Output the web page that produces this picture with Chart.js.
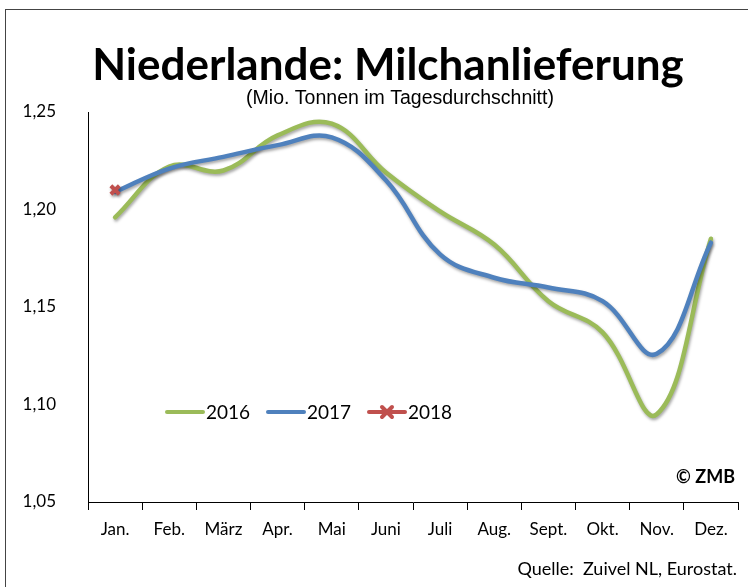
<!DOCTYPE html>
<html>
<head>
<meta charset="utf-8">
<script src="https://cdn.jsdelivr.net/npm/chart.js@4"></script>
<style>
  html, body { margin: 0; padding: 0; background: #fff; overflow: hidden; }
  #wrap { position: relative; width: 748px; height: 587px; }
  #frame { position: absolute; left: 5px; top: 9px; width: 800px; height: 700px; border: 1px solid #444; box-sizing: border-box; }
  canvas { position: absolute; left: 0; top: 0; }
</style>
</head>
<body>
<div id="wrap">
  <div id="frame"></div>
  <canvas id="chart" width="748" height="587"></canvas>
</div>
<script>
const months = ['Jan.', 'Feb.', 'März', 'Apr.', 'Mai', 'Juni', 'Juli', 'Aug.', 'Sept.', 'Okt.', 'Nov.', 'Dez.'];
const values2016 = [1.196, 1.222, 1.220, 1.238, 1.244, 1.219, 1.199, 1.182, 1.153, 1.137, 1.095, 1.185];
const values2017 = [1.209, 1.221, 1.227, 1.233, 1.237, 1.215, 1.177, 1.165, 1.160, 1.153, 1.126, 1.183];
const values2018 = [1.210];
const yTicks = [1.05, 1.10, 1.15, 1.20, 1.25];

const font = 'Lato, "Open Sans", sans-serif';
const green = '#9BBB59', blue = '#4F81BD', red = '#C0504D';

const shadowPlugin = {
  id: 'lineShadow',
  beforeDatasetDraw(chart) {
    const ctx = chart.ctx;
    ctx.save();
    ctx.shadowColor = 'rgba(0,0,0,0.35)';
    ctx.shadowBlur = 3;
    ctx.shadowOffsetX = 1;
    ctx.shadowOffsetY = 2;
  },
  afterDatasetDraw(chart) {
    chart.ctx.restore();
  }
};

// title, legend inside the plot, copyright and source line
const extrasPlugin = {
  id: 'extras',
  afterDraw(chart) {
    const ctx = chart.ctx;
    ctx.save();
    ctx.fillStyle = '#000';
    ctx.textBaseline = 'alphabetic';
    ctx.textAlign = 'center';
    ctx.font = 'bold 44px ' + font;
    ctx.fillText('Niederlande: Milchanlieferung', 388, 80);
    ctx.font = '19.5px "Liberation Sans", Arial, sans-serif';
    ctx.fillText('(Mio. Tonnen im Tagesdurchschnitt)', 400, 104);

    // legend
    ctx.textAlign = 'left';
    ctx.textBaseline = 'middle';
    ctx.font = '19px ' + font;
    const items = chart.data.datasets.map((d, i) => ({ d, x: 167 + i * 101 }));
    items.forEach(({ d, x }) => {
      ctx.strokeStyle = d.borderColor;
      ctx.lineWidth = 4;
      ctx.lineCap = 'round';
      ctx.beginPath();
      ctx.moveTo(x, 412);
      ctx.lineTo(x + 36, 412);
      ctx.stroke();
      if (d.pointStyle === 'crossRot') {
        ctx.lineWidth = 4;
        ctx.beginPath();
        ctx.moveTo(x + 13, 407); ctx.lineTo(x + 23, 417);
        ctx.moveTo(x + 23, 407); ctx.lineTo(x + 13, 417);
        ctx.stroke();
      }
      ctx.fillStyle = '#000';
      ctx.fillText(d.label, x + 39, 413);
    });

    ctx.textAlign = 'right';
    ctx.font = 'bold 18px ' + font;
    ctx.fillText('© ZMB', 735, 477);
    ctx.font = '18px ' + font;
    ctx.fillText('Quelle:  Zuivel NL, Eurostat.', 737, 569);
    ctx.restore();
  }
};

new Chart(document.getElementById('chart'), {
  type: 'line',
  data: {
    labels: months,
    datasets: [
      { label: '2016', data: values2016, borderColor: green, backgroundColor: green, order: 2 },
      { label: '2017', data: values2017, borderColor: blue, backgroundColor: blue, order: 1 },
      { label: '2018', data: values2018, borderColor: red, backgroundColor: red, order: 0,
        pointStyle: 'crossRot', pointRadius: 6, pointBorderWidth: 4 }
    ]
  },
  options: {
    responsive: false,
    animation: false,
    events: [],
    layout: { padding: { top: 112, right: 1, left: 0, bottom: 0 } },
    elements: {
      line: { borderWidth: 4.5, tension: 0.4, cubicInterpolationMode: 'default', borderCapStyle: 'round' },
      point: { radius: 0 }
    },
    plugins: {
      legend: { display: false },
      title: { display: false },
      tooltip: { enabled: false }
    },
    scales: {
      x: {
        offset: true,
        grid: { display: true, drawOnChartArea: false, tickLength: 8, color: '#000', offset: true },
        border: { color: '#000', width: 1 },
        ticks: { color: '#000', font: { family: font, size: 17 }, padding: 9, maxRotation: 0, autoSkip: false },
        afterFit(scale) { scale.height = 85; }
      },
      y: {
        min: 1.05,
        max: 1.25,
        grid: { display: false },
        border: { display: true, color: '#000', width: 1 },
        afterBuildTicks(scale) { scale.ticks = yTicks.map(v => ({ value: v })); },
        ticks: {
          color: '#000',
          font: { family: font, size: 17 },
          padding: 24,
          callback: v => v.toFixed(2).replace('.', ',')
        },
        afterFit(scale) { scale.width = 88; }
      }
    }
  },
  plugins: [shadowPlugin, extrasPlugin]
});
</script>
</body>
</html>
